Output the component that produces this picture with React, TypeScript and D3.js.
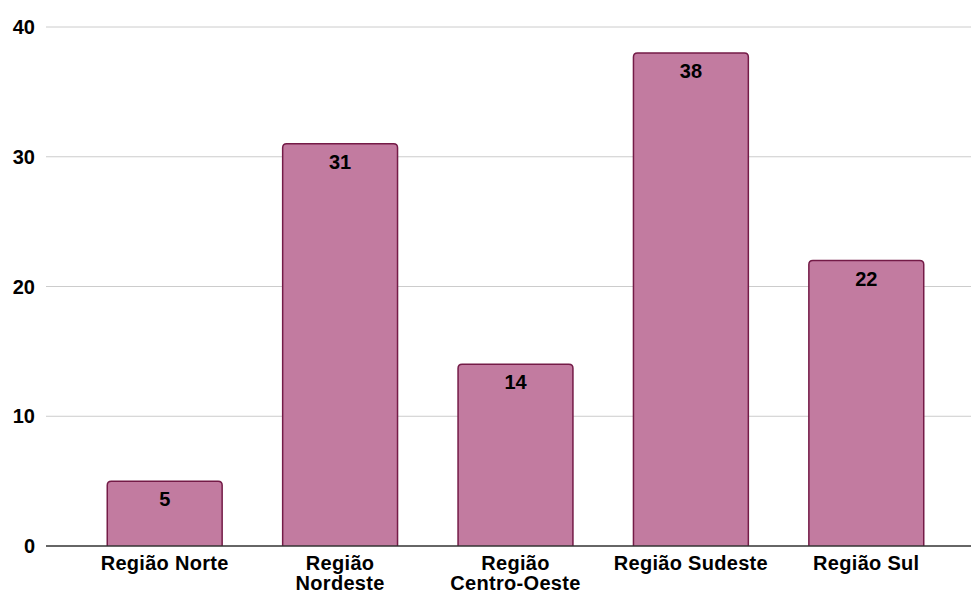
import React from "react";
import * as d3 from "d3";

const categories = ["Região Norte", "Região Nordeste", "Região Centro-Oeste", "Região Sudeste", "Região Sul"];
const categoryLines = [["Região Norte"], ["Região", "Nordeste"], ["Região", "Centro-Oeste"], ["Região Sudeste"], ["Região Sul"]];
const values = [5, 31, 14, 38, 22];
const yTicks = [0, 10, 20, 30, 40];

const W = 971;
const H = 595;
const FONT = "'Liberation Sans', Arial, sans-serif";
const FS = 20;

export default function App() {
  const x = d3.scaleBand<string>().domain(categories).range([77, 954]).paddingInner(0.345).paddingOuter(0.1725);
  const y = d3.scaleLinear().domain([0, 40]).range([546, 27]);
  const r = 4;
  return (
    <svg width={W} height={H} style={{ position: "absolute", left: 0, top: 0, background: "#fff" }}>
      {yTicks.map((t) => (
        <g key={t}>
          {t !== 0 && <line x1={46} x2={971} y1={y(t)} y2={y(t)} stroke="#cccccc" strokeWidth={1} />}
          <text x={35} y={y(t)} dy="0.36em" textAnchor="end" fontFamily={FONT} fontWeight="bold" fontSize={FS} fill="#000">
            {t}
          </text>
        </g>
      ))}
      {categories.map((c, i) => {
        const x0 = x(c)!;
        const bw = x.bandwidth();
        const top = y(values[i]);
        const bot = y(0);
        const path = `M${x0},${bot} L${x0},${top + r} Q${x0},${top} ${x0 + r},${top} L${x0 + bw - r},${top} Q${x0 + bw},${top} ${x0 + bw},${top + r} L${x0 + bw},${bot}`;
        return (
          <g key={c}>
            <path d={path + " Z"} fill="#c27ba0" stroke="none" />
            <path d={path} fill="none" stroke="#741b47" strokeWidth={1.5} />
            <text x={x0 + bw / 2} y={top + 25} textAnchor="middle" fontFamily={FONT} fontWeight="bold" fontSize={FS} fill="#000">
              {values[i]}
            </text>
            {categoryLines[i].map((ln, j) => (
              <text key={j} x={x0 + bw / 2} y={570 + j * 20} textAnchor="middle" fontFamily={FONT} fontWeight="bold" fontSize={FS} letterSpacing={0.3} fill="#000">
                {ln}
              </text>
            ))}
          </g>
        );
      })}
      <line x1={46} x2={971} y1={546} y2={546} stroke="#333333" strokeWidth={1.5} />
    </svg>
  );
}
